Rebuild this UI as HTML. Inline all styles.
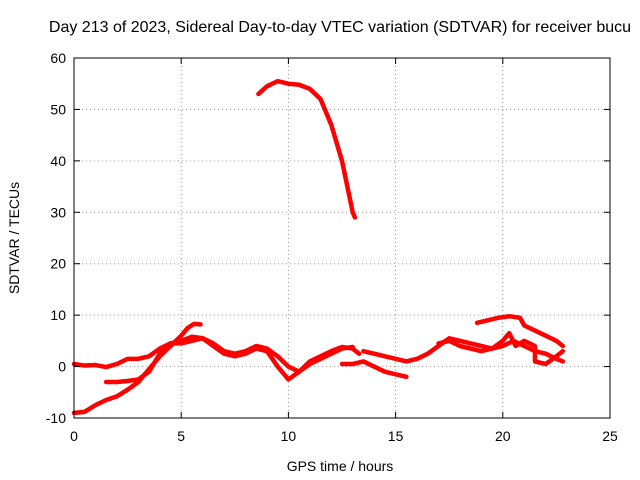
<!DOCTYPE html>
<html><head><meta charset="utf-8"><style>
body{margin:0;background:#fff;}
svg{display:block;font-family:"Liberation Sans",sans-serif;}
</style></head><body>
<svg id="chart" width="640" height="480">
<text x="340" y="32" font-size="16" text-anchor="middle">Day 213 of 2023, Sidereal Day-to-day VTEC variation (SDTVAR) for receiver bucu</text>
<g id="grid"></g>
<g id="series"></g>
<rect x="74" y="58" width="536" height="360" fill="none" stroke="#000" stroke-width="1"/>
<g id="axes"></g>
<text x="340" y="471" font-size="14" text-anchor="middle">GPS time / hours</text>
<text transform="translate(19,238) rotate(-90)" font-size="14" text-anchor="middle">SDTVAR / TECUs</text>
</svg>
<script>
const xTicks=[0,5,10,15,20,25];
const yTicks=[-10,0,10,20,30,40,50,60];
const segA=[[8.6,53],[9,54.5],[9.5,55.5],[10,55],[10.5,54.8],[11,54],[11.5,52],[12,47],[12.5,40],[13,30],[13.1,29]];
const segB=[[0,-9],[0.5,-8.8],[1,-7.5],[1.5,-6.5],[2,-5.8],[2.5,-4.5],[3,-3],[3.5,-0.5],[4,2],[4.5,4],[5,6],[5.3,7.5],[5.6,8.3],[5.9,8.2]];
const segC=[[0,0.5],[0.5,0.2],[1,0.3],[1.5,-0.1],[2,0.5],[2.5,1.5],[3,1.5],[3.5,2],[4,3.5],[4.5,4.5],[5,5],[5.5,5.8],[6,5.5],[6.5,4.5],[7,3],[7.5,2.5],[8,3],[8.5,4],[9,3.5],[9.5,2],[10,0],[10.5,-1],[11,1],[11.5,2],[12,3],[12.5,3.8],[13,3.5],[13.3,2.5]];
const segD=[[1.5,-3],[2,-3],[2.5,-2.8],[3,-2.5],[3.5,-1],[4,2.5],[4.5,4.5],[5,4.5],[5.5,5],[6,5.5],[6.5,4],[7,2.5],[7.5,2],[8,2.5],[8.5,3.5],[9,3],[9.5,0],[10,-2.5],[10.5,-1],[11,0.5],[11.5,1.5],[12,2.5],[12.5,3.5],[13,3.8]];
const segE=[[12.5,0.5],[13,0.5],[13.5,1],[14,0],[14.5,-1],[15,-1.5],[15.5,-2]];
const segF=[[13.5,3],[14,2.5],[14.5,2],[15,1.5],[15.5,1],[16,1.5],[16.5,2.5],[17,4],[17.5,5.5],[18,5],[18.5,4.5],[19,4],[19.5,3.5],[20,4],[20.5,5],[21,4],[21.5,3],[22,2.5],[22.5,1.5],[22.8,1]];
const segG=[[18.8,8.5],[19.3,9],[19.8,9.5],[20.3,9.8],[20.8,9.5],[21,8],[21.5,7],[22,6],[22.5,5],[22.8,4]];
const segH=[[17,4.5],[17.5,5],[18,4],[18.5,3.5],[19,3],[19.5,3.5],[20,5],[20.3,6.5],[20.6,4],[21,5],[21.5,4],[21.5,1],[22,0.5],[22.5,2],[22.8,3]];
const series=[segA,segB,segC,segD,segE,segF,segG,segH];
const NS="http://www.w3.org/2000/svg";
const X0=74,X1=610,Y0=418,Y1=58;
const xs=v=>X0+(v-0)/(25-0)*(X1-X0);
const ys=v=>Y0-(v+10)/(60+10)*(Y0-Y1);
const grid=document.getElementById('grid'),axes=document.getElementById('axes'),sg=document.getElementById('series');
function mk(tag,attrs,parent){const e=document.createElementNS(NS,tag);for(const k in attrs)e.setAttribute(k,attrs[k]);parent.appendChild(e);return e;}
xTicks.forEach(t=>{const x=xs(t);
 if(t>0&&t<25){const g=mk('line',{x1:x,x2:x,y1:Y1,y2:Y0,stroke:'#999','stroke-dasharray':'1,3'},grid);
 
 }
 mk('line',{x1:x,x2:x,y1:Y0,y2:Y0-6,stroke:'#000'},axes);mk('line',{x1:x,x2:x,y1:Y1,y2:Y1+6,stroke:'#000'},axes);
 const l=mk('text',{x:x,y:Y0+23,'font-size':14,'text-anchor':'middle'},axes);l.textContent=t;
 
 });
yTicks.forEach(t=>{const y=ys(t);
 if(t>-10&&t<60){const g=mk('line',{x1:X0,x2:X1,y1:y,y2:y,stroke:'#999','stroke-dasharray':'1,3'},grid);
 
 }
 mk('line',{x1:X0,x2:X0+6,y1:y,y2:y,stroke:'#000'},axes);mk('line',{x1:X1,x2:X1-6,y1:y,y2:y,stroke:'#000'},axes);
 const l=mk('text',{x:X0-8,y:y+5,'font-size':14,'text-anchor':'end'},axes);l.textContent=t;
 
 });
series.forEach(s=>{const p=mk('polyline',{points:s.map(d=>xs(d[0])+','+ys(d[1])).join(' '),fill:'none',stroke:'#f00','stroke-width':4.5,'stroke-linejoin':'round','stroke-linecap':'round'},sg);
 
 });
</script>
</body></html>
